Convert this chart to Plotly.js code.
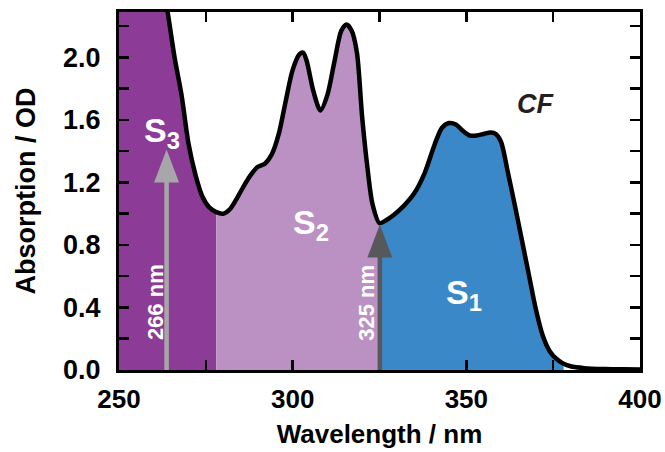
<!DOCTYPE html>
<html>
<head>
<meta charset="utf-8">
<script src="https://cdn.plot.ly/plotly-3.0.1.min.js"></script>
<style>html,body{margin:0;padding:0;background:#fff;}#chart{width:665px;height:452px;}</style>
</head>
<body>
<div id="chart"></div>
<script>
// Absorption spectrum of CF
const wavelength = [250, 255, 260, 262, 264, 266, 268, 270, 272, 274, 276, 278, 280, 282, 284, 286, 288, 290, 292, 294, 296, 298, 300, 302, 303, 304, 306, 308, 310, 312, 314, 315.5, 317, 318.5, 320, 321.5, 323, 325, 327, 329, 332, 335, 338, 341, 343, 345, 347, 349, 351, 353, 355, 357, 358.5, 360, 362, 364, 366, 368, 370, 372, 374, 376, 378, 380, 384, 390, 395, 400];
const absorption = [3.6, 3.3, 2.85, 2.55, 2.29, 2.0, 1.76, 1.45, 1.25, 1.11, 1.04, 1.01, 1.00, 1.03, 1.10, 1.18, 1.25, 1.30, 1.32, 1.38, 1.51, 1.72, 1.92, 2.02, 2.03, 1.98, 1.78, 1.66, 1.76, 1.97, 2.17, 2.21, 2.17, 2.03, 1.62, 1.30, 1.06, 0.94, 0.96, 0.99, 1.05, 1.13, 1.26, 1.45, 1.55, 1.58, 1.57, 1.53, 1.50, 1.50, 1.51, 1.52, 1.51, 1.46, 1.26, 1.05, 0.83, 0.61, 0.39, 0.22, 0.12, 0.07, 0.04, 0.024, 0.012, 0.006, 0.004, 0.003];

// Band regions (nm)
const bandNames = ["S3", "S2", "S1"];
const bandStart = [250, 278, 325];
const bandEnd = [278, 325, 378];
const bandColors = ["#8C3B96", "#BB91C3", "#3B88C8"];

// Excitation wavelengths (arrows)
const excLabels = ["266 nm", "325 nm"];
const excX = [263.7, 325.1];
const excY = [1.41, 0.93];
const excColors = ["#A7A7A9", "#58585A"];

const font = "Liberation Sans, Arial, sans-serif";

const traces = [];
for (let b = 0; b < bandNames.length; b++) {
  const xs = [], ys = [];
  for (let i = 0; i < wavelength.length; i++) {
    if (wavelength[i] >= bandStart[b] && wavelength[i] <= bandEnd[b]) {
      xs.push(wavelength[i]); ys.push(absorption[i]);
    }
  }
  traces.push({
    x: xs, y: ys, type: "scatter", mode: "lines", fill: "tozeroy",
    fillcolor: bandColors[b], line: {width: 0, shape: "spline", smoothing: 0.8, color: bandColors[b]},
    hoverinfo: "skip", showlegend: false, name: bandNames[b]
  });
}
traces.push({
  x: wavelength, y: absorption, type: "scatter", mode: "lines",
  line: {color: "#000", width: 4.5, shape: "spline", smoothing: 0.8},
  showlegend: false, name: "CF"
});

// Arrows drawn as shapes: a stem in data units plus a pixel-sized head anchored at the tip
const shapes = [];
for (let k = 0; k < excLabels.length; k++) {
  shapes.push({
    type: "line", xref: "x", yref: "y", x0: excX[k], x1: excX[k], y0: 0, y1: excY[k] - 0.08,
    line: {color: excColors[k], width: 4.5}, layer: "above"
  });
  shapes.push({
    type: "path", xref: "x", yref: "y", xsizemode: "pixel", ysizemode: "pixel",
    xanchor: excX[k], yanchor: excY[k],
    path: "M0,0 L-12.5,-33 L12.5,-33 Z",
    fillcolor: excColors[k], line: {width: 0}, layer: "above"
  });
}

const annotations = [];
annotations.push({x: 260.4, y: 0.435, xref: "x", yref: "y", text: "<b>" + excLabels[0] + "</b>", textangle: -90, showarrow: false, font: {family: font, size: 22, color: "#fff"}});
annotations.push({x: 321.4, y: 0.43, xref: "x", yref: "y", text: "<b>" + excLabels[1] + "</b>", textangle: -90, showarrow: false, font: {family: font, size: 22, color: "#fff"}});
annotations.push({x: 262.4, y: 1.52, xref: "x", yref: "y", text: "<b>S<sub>3</sub></b>", showarrow: false, font: {family: font, size: 34, color: "#fff"}});
annotations.push({x: 305.3, y: 0.93, xref: "x", yref: "y", text: "<b>S<sub>2</sub></b>", showarrow: false, font: {family: font, size: 34, color: "#fff"}});
annotations.push({x: 349.2, y: 0.48, xref: "x", yref: "y", text: "<b>S<sub>1</sub></b>", showarrow: false, font: {family: font, size: 34, color: "#fff"}});
annotations.push({x: 369.8, y: 1.70, xref: "x", yref: "y", text: "<b><i>CF</i></b>", showarrow: false, font: {family: font, size: 27, color: "#231F20"}});

const layout = {
  width: 665, height: 452,
  margin: {l: 119, r: 25, t: 12, b: 82},
  paper_bgcolor: "#fff", plot_bgcolor: "#fff",
  showlegend: false,
  xaxis: {
    range: [250, 400], tickvals: [250, 300, 350, 400], ticktext: ["250", "300", "350", "400"],
    ticks: "inside", ticklen: 10, tickwidth: 2.5, tickcolor: "#000",
    minor: {tickvals: [275, 325, 375], ticks: "inside", ticklen: 10, tickwidth: 2.5, tickcolor: "#000"},
    showline: true, linewidth: 3, linecolor: "#000", mirror: "allticks",
    showgrid: false, zeroline: false, ticklabelstandoff: 4,
    tickfont: {family: font, size: 26, color: "#000", weight: "bold"},
    title: {text: "<b>Wavelength / nm</b>", font: {family: font, size: 26, color: "#000"}, standoff: 12}
  },
  yaxis: {
    range: [0, 2.29], tickvals: [0, 0.4, 0.8, 1.2, 1.6, 2.0], ticktext: ["0.0", "0.4", "0.8", "1.2", "1.6", "2.0"],
    ticks: "inside", ticklen: 10, tickwidth: 2.5, tickcolor: "#000",
    minor: {tickvals: [0.2, 0.6, 1.0, 1.4, 1.8, 2.2], ticks: "inside", ticklen: 10, tickwidth: 2.5, tickcolor: "#000"},
    showline: true, linewidth: 3, linecolor: "#000", mirror: "allticks",
    showgrid: false, zeroline: false, ticklabelstandoff: 10,
    tickfont: {family: font, size: 27, color: "#000", weight: "bold"},
    title: {text: "<b>Absorption / OD</b>", font: {family: font, size: 27, color: "#000"}, standoff: 20}
  },
  shapes: shapes,
  annotations: annotations
};

Plotly.newPlot("chart", traces, layout, {displayModeBar: false, staticPlot: true});
</script>
</body>
</html>
